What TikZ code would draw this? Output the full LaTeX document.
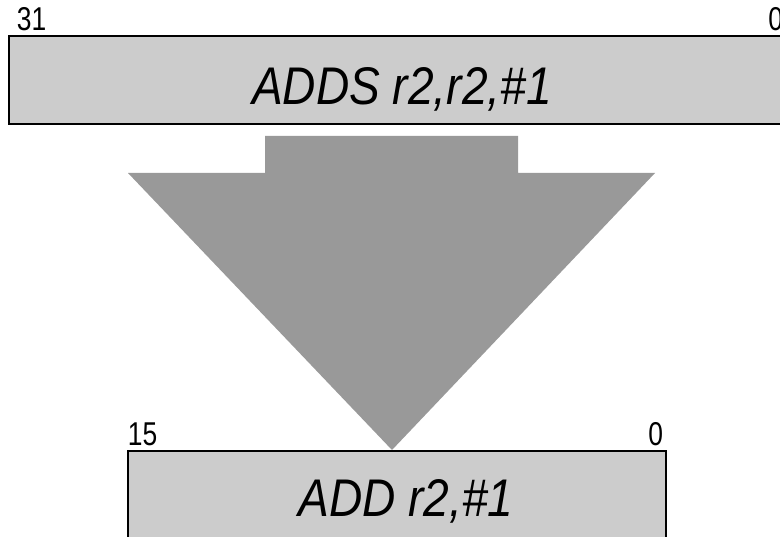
\documentclass[tikz,border=0pt]{standalone}
\usepackage{fontspec}
\setmainfont{Liberation Sans}
\newfontfamily\opfont[FakeStretch=0.87]{Liberation Sans}
\newfontfamily\bitfont[FakeStretch=0.8]{Liberation Sans}
\usetikzlibrary{positioning}

\definecolor{regfill}{HTML}{CCCCCC}
\definecolor{shrinkfill}{HTML}{999999}

\begin{document}
\begin{tikzpicture}[x=1pt, y=-1pt,
  instr/.style={draw, line width=2.5pt, fill=regfill, inner sep=0pt,
    minimum height=88pt},
  optext/.style={inner sep=0pt, anchor=base,
    font=\opfont\fontsize{53}{53}\selectfont\itshape},
  bitnum/.style={inner sep=0pt, font=\bitfont\fontsize{33}{33}\selectfont}
]
\useasboundingbox (0,0) rectangle (780,537);
\clip (0,0) rectangle (780,537);

% 32-bit encoding
\node[instr, minimum width=777pt] (wide) at (397.5,80) {};
\node[optext] (wideop) at (402,105) {ADDS r2,r2,\#1};
\node[bitnum, anchor=base west] (wmsb) at ([xshift=9pt, yshift=4pt]wide.north west) {31};
\node[bitnum, anchor=base east] (wlsb) at ([xshift=-4pt, yshift=4pt]wide.north east) {0};

% 16-bit encoding
\node[instr, minimum width=538pt, minimum height=98pt] (narrow) at (397,500) {};
\node[optext] (narrowop) at (406,517) {ADD r2,\#1};
\node[bitnum, anchor=base west] (nmsb) at ([xshift=1pt, yshift=4pt]narrow.north west) {15};
\node[bitnum, anchor=base east] (nlsb) at ([xshift=-4pt, yshift=4pt]narrow.north east) {0};

% big arrow between them
\fill[shrinkfill] (265,136) -- (518,136) -- (518,173) -- (655,173)
  -- (392,450) -- (128,173) -- (265,173) -- cycle;
\end{tikzpicture}
\end{document}
